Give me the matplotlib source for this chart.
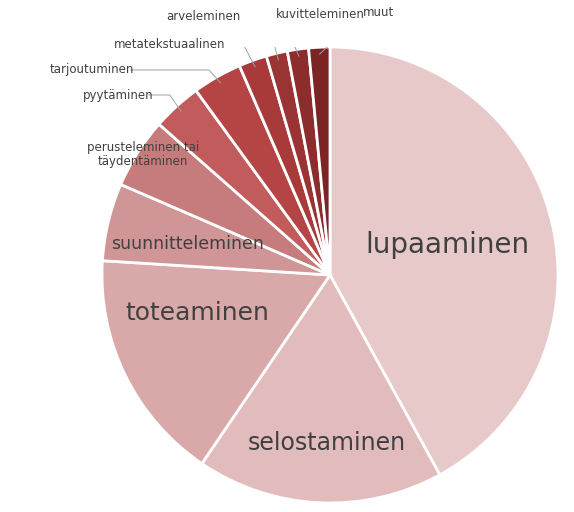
import numpy as np
import matplotlib.pyplot as plt

luokat = ["lupaaminen", "selostaminen", "toteaminen", "suunnitteleminen",
          "perusteleminen tai\ntäydentäminen", "pyytäminen", "tarjoutuminen",
          "metatekstuaalinen", "arveleminen", "kuvitteleminen", "muut"]
osuudet = [42, 17.5, 16.5, 5.5, 5, 3.5, 3.5, 2, 1.5, 1.5, 1.5]
varit = ["#e8c9ca", "#e2bcbd", "#d9a9a9", "#d09596", "#c67c7c", "#c25c5c",
         "#b54444", "#a83a3a", "#9a3434", "#8c2c2c", "#7c2424"]

# label pixel positions (x, y), font size, alignment, leader line?
tekstit = [
    ((447, 245), 20, "center", False),
    ((327, 443), 17, "center", False),
    ((197, 313), 18, "center", False),
    ((187, 244), 12.5, "center", False),
    ((143, 155), 8.5, "center", False),
    ((118, 95), 8.5, "center", True),
    ((92, 70), 8.5, "center", True),
    ((170, 45), 8.5, "center", True),
    ((203, 17), 8.5, "center", True),
    ((320, 15), 8.5, "center", True),
    ((378, 12), 8.5, "center", True),
]

CX, CY, R = 330, 275, 228
fig = plt.figure(figsize=(5.74, 5.12), dpi=100)
ax = fig.add_axes([(CX - R) / 574, (512 - CY - R) / 512, 2 * R / 574, 2 * R / 512])
wedges, _ = ax.pie(osuudet, colors=varit, startangle=90, counterclock=False,
                   radius=1, wedgeprops=dict(edgecolor="white", linewidth=2))
ax.set_xlim(-1, 1)
ax.set_ylim(-1, 1)
ax.axis("off")


def px(p):
    return ((p[0] - CX) / R, (CY - p[1]) / R)


for w, nimi, (pos, koko, ha, viiva) in zip(wedges, luokat, tekstit):
    x, y = px(pos)
    ax.text(x, y, nimi, fontsize=koko, ha=ha, va="center", color="#404040",
            family="Liberation Sans Narrow", linespacing=1.1)
    if viiva:
        keski = np.deg2rad((w.theta1 + w.theta2) / 2)
        kx, ky = 0.97 * np.cos(keski), 0.97 * np.sin(keski)
        leveys = len(nimi) * koko * 0.62 / R
        if x < kx - 0.05:
            lx = x + leveys / 2 + 0.02
            ax.plot([lx, kx - 0.05, kx], [y, y, ky], color="#a0a0a0", lw=0.7)
        else:
            lx = x - leveys / 2 - 0.01
            ax.plot([lx, kx], [y, ky], color="#a0a0a0", lw=0.7)

fig.savefig("out.png", dpi=100)
